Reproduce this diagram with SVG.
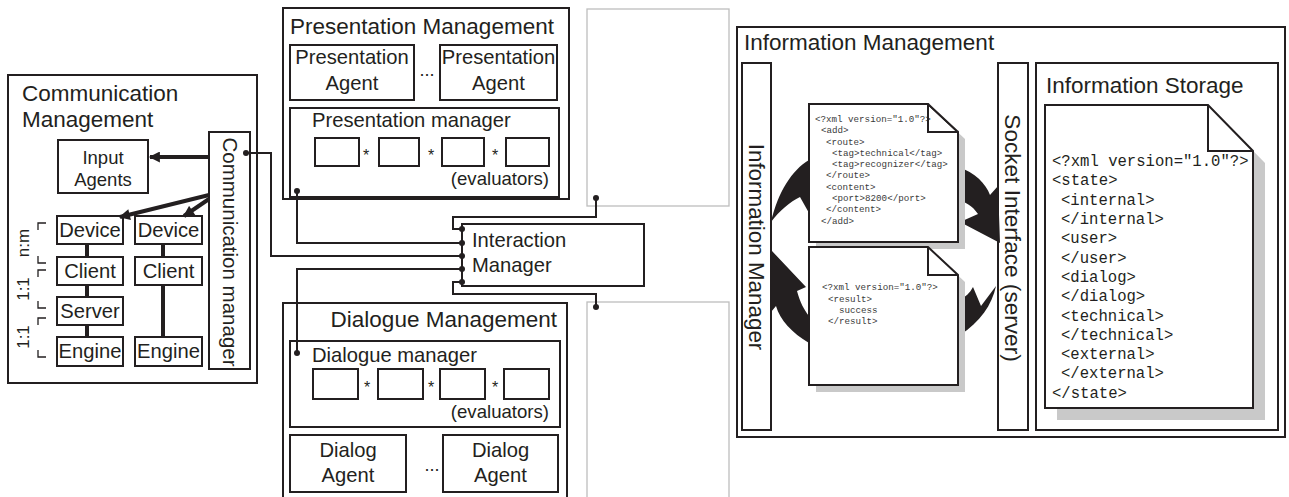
<svg xmlns="http://www.w3.org/2000/svg" width="1289" height="497" viewBox="0 0 1289 497">
  <defs>
    <marker id="head" viewBox="0 0 10 10" refX="9" refY="5" markerWidth="13" markerHeight="11" markerUnits="userSpaceOnUse" orient="auto">
      <path d="M0,0 L10,5 L0,10 Z" fill="#231f20"/>
    </marker>
  </defs>
  <style>
    .box{fill:#fff;stroke:#231f20;stroke-width:2}
    .ghost{fill:#fff;stroke:#bdbdbd;stroke-width:1.3}
    .t{font-family:"Liberation Sans",Arial,sans-serif;fill:#231f20}
    .title{font-size:22.5px}
    .lbl{font-size:20.2px}
    .mid{text-anchor:middle}
    .mono{font-family:"Liberation Mono","Courier New",monospace;fill:#231f20}
    .small{font-size:9.2px;fill:#3a3a3a}
    .big{font-size:15.6px}
    .wire{fill:none;stroke:#231f20;stroke-width:2}
    .thick{fill:none;stroke:#231f20;stroke-width:4}
    .dot{fill:#231f20}
    .cyc{fill:#231f20}
    .shadow{fill:#c9c9c9}
    .brk{fill:none;stroke:#231f20;stroke-width:1.3}
  </style>
  <rect width="1289" height="497" fill="#fff"/>

  <!-- Communication Management -->
  <g id="communication-management">
    <rect class="box" x="8" y="75" width="249" height="308"/>
    <text class="t title" x="22" y="101">Communication</text>
    <text class="t title" x="22" y="127">Management</text>
    <g id="input-agents">
      <rect class="box" x="58" y="140" width="90" height="53"/>
      <text class="t mid" x="103" y="164" font-size="18.5">Input</text>
      <text class="t mid" x="103" y="186" font-size="18.5">Agents</text>
    </g>
    <g id="communication-manager">
      <rect class="box" x="209" y="132" width="41" height="237"/>
      <text class="t mid" font-size="20.5" transform="translate(229.5,252) rotate(90)" y="7">Communication manager</text>
    </g>
    <g id="device-a"><rect class="box" x="57" y="216" width="66" height="28"/><text class="t lbl mid" x="90" y="237">Device</text></g>
    <g id="client-a"><rect class="box" x="57" y="257" width="66" height="28"/><text class="t lbl mid" x="90" y="278">Client</text></g>
    <g id="server-a"><rect class="box" x="57" y="297" width="66" height="28"/><text class="t lbl mid" x="90" y="318">Server</text></g>
    <g id="engine-a"><rect class="box" x="57" y="337" width="66" height="29"/><text class="t lbl mid" x="90" y="358">Engine</text></g>
    <g id="device-b"><rect class="box" x="135" y="216" width="67" height="28"/><text class="t lbl mid" x="168.5" y="237">Device</text></g>
    <g id="client-b"><rect class="box" x="135" y="257" width="67" height="28"/><text class="t lbl mid" x="168.5" y="278">Client</text></g>
    <g id="engine-b"><rect class="box" x="135" y="337" width="67" height="29"/><text class="t lbl mid" x="168.5" y="358">Engine</text></g>
    <!-- cardinality brackets -->
    <path class="brk" d="M46,223 H38 V230 M38,256 V263 H46"/>
    <path class="brk" d="M46,270 H38 V277 M38,301 V308 H46"/>
    <path class="brk" d="M46,318 H38 V325 M38,350 V357 H46"/>
    <text class="t mid" font-size="17" transform="translate(23,243) rotate(-90)" y="6">n:m</text>
    <text class="t mid" font-size="17" transform="translate(23,289) rotate(-90)" y="6">1:1</text>
    <text class="t mid" font-size="17" transform="translate(23,337) rotate(-90)" y="6">1:1</text>
  </g>

  <!-- Presentation Management -->
  <g id="presentation-management">
    <rect class="box" x="283" y="8" width="286" height="191"/>
    <text class="t title" x="290" y="34">Presentation Management</text>
    <g id="presentation-agent-1">
      <rect class="box" x="290" y="45" width="124" height="55"/>
      <text class="t lbl mid" x="352" y="64">Presentation</text>
      <text class="t lbl mid" x="352" y="90">Agent</text>
    </g>
    <text class="t mid" x="427" y="76" font-size="18">...</text>
    <g id="presentation-agent-2">
      <rect class="box" x="440" y="45" width="117" height="55"/>
      <text class="t lbl mid" x="498.5" y="64">Presentation</text>
      <text class="t lbl mid" x="498.5" y="90">Agent</text>
    </g>
    <g id="presentation-manager">
      <rect class="box" x="290" y="108" width="269" height="89"/>
      <text class="t lbl" x="312" y="127">Presentation manager</text>
      <rect class="box" x="315" y="138" width="44" height="28"/>
      <rect class="box" x="379" y="138" width="40" height="28"/>
      <rect class="box" x="442" y="138" width="42" height="28"/>
      <rect class="box" x="506" y="138" width="43" height="28"/>
      <text class="t mid" x="366" y="161" font-size="16">*</text>
      <text class="t mid" x="431" y="161" font-size="16">*</text>
      <text class="t mid" x="495" y="161" font-size="16">*</text>
      <text class="t" x="549" y="185" font-size="18.6" text-anchor="end">(evaluators)</text>
    </g>
  </g>

  <!-- empty placeholder panels -->
  <g id="panel-top"><rect class="ghost" x="587" y="9" width="142" height="197"/></g>
  <g id="panel-bottom"><rect class="ghost" x="587" y="302" width="142" height="200"/></g>

  <!-- Interaction Manager -->
  <g id="interaction-manager">
    <rect class="box" x="462" y="224" width="182" height="62"/>
    <text class="t" x="472" y="247" font-size="20.2">Interaction</text>
    <text class="t" x="472" y="272" font-size="20.2">Manager</text>
  </g>

  <!-- Dialogue Management -->
  <g id="dialogue-management">
    <rect class="box" x="283" y="303" width="284" height="200"/>
    <text class="t title" x="557" y="327" text-anchor="end">Dialogue Management</text>
    <g id="dialogue-manager">
      <rect class="box" x="290" y="341" width="270" height="86"/>
      <text class="t lbl" x="312" y="362">Dialogue manager</text>
      <rect class="box" x="313" y="369" width="45" height="30"/>
      <rect class="box" x="378" y="369" width="45" height="30"/>
      <rect class="box" x="440" y="369" width="45" height="30"/>
      <rect class="box" x="504" y="369" width="45" height="30"/>
      <text class="t mid" x="367" y="393" font-size="16">*</text>
      <text class="t mid" x="431" y="393" font-size="16">*</text>
      <text class="t mid" x="495" y="393" font-size="16">*</text>
      <text class="t" x="549" y="418" font-size="18.6" text-anchor="end">(evaluators)</text>
    </g>
    <g id="dialog-agent-1">
      <rect class="box" x="290" y="435" width="116" height="57"/>
      <text class="t lbl mid" x="348" y="457">Dialog</text>
      <text class="t lbl mid" x="348" y="482">Agent</text>
    </g>
    <text class="t mid" x="432" y="471" font-size="18">...</text>
    <g id="dialog-agent-2">
      <rect class="box" x="443" y="435" width="115" height="57"/>
      <text class="t lbl mid" x="500.5" y="457">Dialog</text>
      <text class="t lbl mid" x="500.5" y="482">Agent</text>
    </g>
  </g>

  <!-- Information Management -->
  <g id="information-management">
    <rect class="box" x="737" y="27" width="548" height="410"/>
    <text class="t title" x="744" y="50">Information Management</text>
    <g id="information-manager">
      <rect class="box" x="742" y="63" width="29" height="367"/>
      <text class="t mid" font-size="22.4" transform="translate(756.5,247) rotate(90)" y="8">Information Manager</text>
    </g>
    <g id="socket-interface">
      <rect class="box" x="998" y="63" width="30" height="367"/>
      <text class="t mid" font-size="22.6" transform="translate(1013,238) rotate(90)" y="8">Socket Interface (server)</text>
    </g>
    <!-- message cycle arrows -->
    <g id="cycle">
      <path class="cyc" d="M809,160 C792,170 778,192 771,222 C780,210 790,202 800,197 L809,213 Z"/>
      <path class="cyc" d="M958,167 C975,172 986,184 990,195 L998,186 L1000,243 L960,222 L978,214 C972,205 965,202 958,200 Z"/>
      <path class="cyc" d="M973,287 L981,306 L996,286 C992,305 980,322 960,335 L960,300 C965,297 970,293 973,287 Z"/>
      <path class="cyc" d="M772,251 L806,287 L797,291 C800,302 804,310 809,316 L809,343 C792,333 780,320 776,306 L771,312 Z"/>
    </g>
    <g id="request-doc">
      <path class="shadow" d="M816,111 H935 L965,139 V249 H816 Z"/>
      <path class="box" d="M809,104 H928 L958,132 V242 H809 Z"/>
      <path class="wire" d="M928,104 V132 H958"/>
      <g class="mono small">
        <text x="815" y="122">&lt;?xml version="1.0"?&gt;</text>
        <text x="821" y="133">&lt;add&gt;</text>
        <text x="826" y="145">&lt;route&gt;</text>
        <text x="832" y="156">&lt;tag&gt;technical&lt;/tag&gt;</text>
        <text x="832" y="167">&lt;tag&gt;recognizer&lt;/tag&gt;</text>
        <text x="826" y="178">&lt;/route&gt;</text>
        <text x="826" y="190">&lt;content&gt;</text>
        <text x="832" y="201">&lt;port&gt;8200&lt;/port&gt;</text>
        <text x="826" y="212">&lt;/content&gt;</text>
        <text x="821" y="224">&lt;/add&gt;</text>
      </g>
      <path class="box" d="M928,104 H958 V132 Z" style="stroke:none"/>
      <path class="wire" d="M928,104 L958,132 M928,104 V132 H958"/>
    </g>
    <g id="result-doc">
      <path class="shadow" d="M816,254 H935 L965,282 V392 H816 Z"/>
      <path class="box" d="M809,247 H928 L958,275 V385 H809 Z"/>
      <path class="wire" d="M928,247 V275 H958"/>
      <g class="mono small">
        <text x="822" y="290">&lt;?xml version="1.0"?&gt;</text>
        <text x="828" y="302">&lt;result&gt;</text>
        <text x="839" y="313">success</text>
        <text x="828" y="324">&lt;/result&gt;</text>
      </g>
    </g>
    <g id="information-storage">
      <rect class="box" x="1036" y="63" width="242" height="367"/>
      <text class="t title" x="1046" y="93">Information Storage</text>
      <path class="shadow" d="M1057,117 H1220 L1265,163 V420 H1057 Z"/>
      <path class="box" d="M1045,105 H1208 L1253,151 V408 H1045 Z"/>
      <path class="wire" d="M1208,105 V151 H1253"/>
      <g class="mono big">
        <text x="1052" y="166">&lt;?xml version="1.0"?&gt;</text>
        <text x="1052" y="185">&lt;state&gt;</text>
        <text x="1061" y="205">&lt;internal&gt;</text>
        <text x="1061" y="224">&lt;/internal&gt;</text>
        <text x="1061" y="243">&lt;user&gt;</text>
        <text x="1061" y="263">&lt;/user&gt;</text>
        <text x="1061" y="282">&lt;dialog&gt;</text>
        <text x="1061" y="301">&lt;/dialog&gt;</text>
        <text x="1061" y="321">&lt;technical&gt;</text>
        <text x="1061" y="340">&lt;/technical&gt;</text>
        <text x="1061" y="359">&lt;external&gt;</text>
        <text x="1061" y="378">&lt;/external&gt;</text>
        <text x="1052" y="398">&lt;/state&gt;</text>
      </g>
    </g>
  </g>

  <!-- Connectors -->
  <g id="connectors">
    <line class="thick" x1="209" y1="157" x2="150" y2="157" marker-end="url(#head)"/>
    <line class="thick" x1="209" y1="195" x2="120" y2="217" marker-end="url(#head)"/>
    <line class="thick" x1="209" y1="199" x2="184" y2="216" marker-end="url(#head)"/>
    <path class="thick" d="M87,244 V257 M87,285 V297 M87,325 V337 M163,244 V257 M163,285 V337"/>
    <path class="wire" d="M246,153 H271 V256 H462"/>
    <path class="wire" d="M297,191 V243 H462"/>
    <path class="wire" d="M297,353 V269 H462"/>
    <path class="wire" d="M596,198 V217 H453 V229 H462"/>
    <path class="wire" d="M462,282 H453 V294 H596 V307"/>
    <g class="dot">
      <circle cx="246" cy="153" r="3"/>
      <circle cx="297" cy="191" r="3"/>
      <circle cx="297" cy="353" r="3"/>
      <circle cx="596" cy="198" r="3"/>
      <circle cx="596" cy="307" r="3"/>
      <circle cx="462" cy="229" r="3"/>
      <circle cx="462" cy="243" r="3"/>
      <circle cx="462" cy="256" r="3"/>
      <circle cx="462" cy="269" r="3"/>
      <circle cx="462" cy="282" r="3"/>
    </g>
  </g>
</svg>
